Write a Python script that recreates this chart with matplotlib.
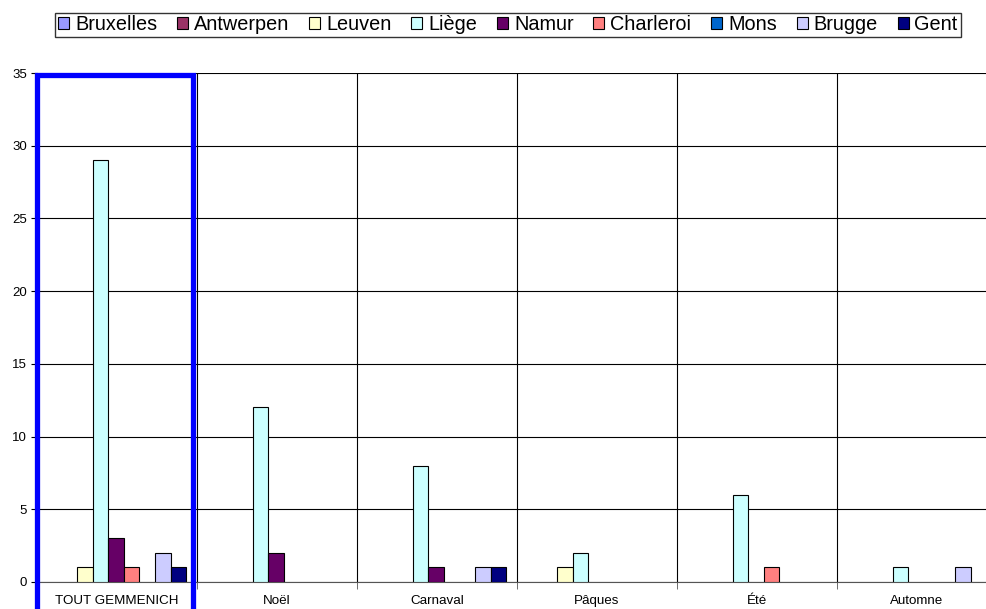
import matplotlib
matplotlib.use("Agg")
import matplotlib.pyplot as plt
from matplotlib.patches import Rectangle, Patch
import numpy as np

plt.rcParams["font.family"] = ["Liberation Sans", "DejaVu Sans"]

categories = ["TOUT GEMMENICH", "Noël", "Carnaval", "Pâques", "Été", "Automne"]
series = ["Bruxelles", "Antwerpen", "Leuven", "Liège", "Namur", "Charleroi", "Mons", "Brugge", "Gent"]
colors = ["#9999FF", "#993366", "#FFFFCC", "#CCFFFF", "#660066", "#FF8080", "#0066CC", "#CCCCFF", "#000080"]

bruxelles = [0, 0, 0, 0, 0, 0]
antwerpen = [0, 0, 0, 0, 0, 0]
leuven = [1, 0, 0, 1, 0, 0]
liege = [29, 12, 8, 2, 6, 1]
namur = [3, 2, 1, 0, 0, 0]
charleroi = [1, 0, 0, 0, 1, 0]
mons = [0, 0, 0, 0, 0, 0]
brugge = [2, 0, 1, 0, 0, 1]
gent = [1, 0, 1, 0, 0, 0]
values = [bruxelles, antwerpen, leuven, liege, namur, charleroi, mons, brugge, gent]

fig = plt.figure(figsize=(9.87, 6.09), dpi=100)
ax = fig.add_axes([37 / 987, 1 - 582 / 609, 960 / 987, 509 / 609])

x = np.arange(len(categories))
bw = 0.097
for i, (name, vals, c) in enumerate(zip(series, values, colors)):
  v = np.array(vals, dtype=float)
  mask = v > 0
  if mask.any():
    ax.bar(x[mask] + (i - 4) * bw - 0.005, v[mask], width=bw, color=c,
           edgecolor="black", linewidth=0.8, zorder=3)

ax.set_xlim(-0.5, 5.5)
ax.set_ylim(0, 35)
ax.set_yticks(range(0, 36, 5))
ax.set_xticks(x)
ax.set_xticklabels(categories, fontsize=9.6, va="baseline")
ax.set_xticks(np.arange(-0.5, 6, 1), minor=True)
ax.tick_params(axis="x", which="major", length=0, pad=16)
ax.tick_params(axis="x", which="minor", length=5, color="#555555")
ax.tick_params(axis="y", labelsize=9.5, length=4, pad=3)

ax.grid(axis="y", color="black", linewidth=0.8, zorder=0)
ax.grid(axis="x", which="minor", color="black", linewidth=0.8, zorder=0)
for s in ["top", "right"]:
  ax.spines[s].set_visible(False)
ax.spines["left"].set_color("#555555")
ax.spines["bottom"].set_color("#555555")

# blue highlight of the first category
rect = Rectangle((-0.503, -5), 0.981, 34.86 + 5, fill=False, edgecolor="#0000FF",
                 linewidth=3.8, clip_on=False, zorder=5)
ax.add_patch(rect)

handles = [Patch(facecolor=c, edgecolor="black", linewidth=0.8) for c in colors]
leg = fig.legend(handles, series, loc="center", ncol=9,
                 bbox_to_anchor=(508 / 987, 1 - 25 / 609), fontsize=14.3,
                 frameon=True, fancybox=False, edgecolor="black",
                 handlelength=0.55, handleheight=0.55, handletextpad=0.3,
                 columnspacing=1.0, borderpad=0.14, borderaxespad=0)
leg.get_frame().set_linewidth(1.0)

fig.savefig("out.png", dpi=100)
